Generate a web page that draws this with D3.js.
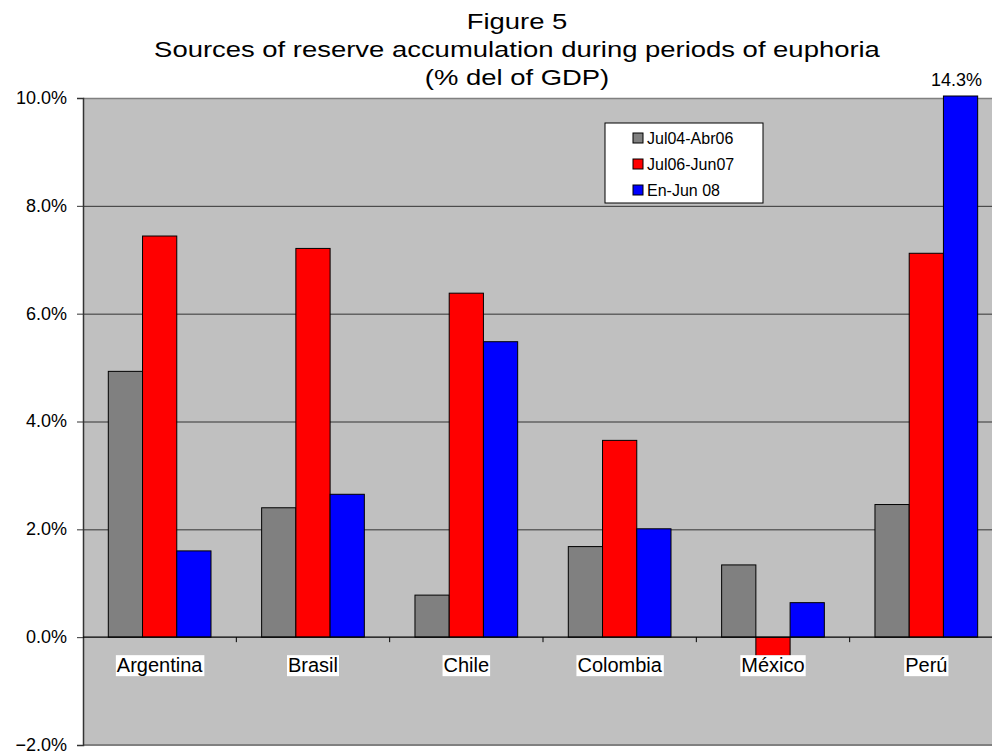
<!DOCTYPE html>
<html>
<head>
<meta charset="utf-8">
<script src="https://cdn.jsdelivr.net/npm/d3@7"></script>
<style>
  body { margin: 0; background: #fff; }
  text { font-family: "Liberation Sans", Arial, sans-serif; fill: #000; }
</style>
</head>
<body>
<script>
// Data (% of GDP)
const countries = ["Argentina", "Brasil", "Chile", "Colombia", "México", "Perú"];
const seriesNames = ["Jul04-Abr06", "Jul06-Jun07", "En-Jun 08"];
const seriesColors = ["#808080", "#FF0000", "#0000FF"];
const jul04Abr06 = [4.93, 2.40, 0.78, 1.68, 1.34, 2.46];
const jul06Jun07 = [7.44, 7.21, 6.38, 3.65, -0.35, 7.12];
const enJun08 = [1.60, 2.65, 5.48, 2.01, 0.64, 14.3];
const yTicks = [-2, 0, 2, 4, 6, 8, 10];
const titleLines = ["Figure 5", "Sources of reserve accumulation during periods of euphoria", "(% del of GDP)"];

const width = 992, height = 753;
const plot = { left: 83, right: 1003, top: 98, bottom: 745 };

const svg = d3.select("body").append("svg")
    .attr("width", width)
    .attr("height", height);

const x0 = d3.scaleBand().domain(countries).range([plot.left, plot.right]);
const x1 = d3.scaleBand().domain(seriesNames).range([25.3, 128]);
const y = d3.scaleLinear().domain([-2, 10]).range([plot.bottom, plot.top]).clamp(true);

// plot area
svg.append("rect")
    .attr("x", plot.left).attr("y", plot.top)
    .attr("width", plot.right - plot.left).attr("height", plot.bottom - plot.top)
    .attr("fill", "#C0C0C0");

// gridlines
svg.append("g")
    .selectAll("line")
    .data(yTicks.filter(d => d > 0 && d < 10))
    .join("line")
    .attr("x1", plot.left).attr("x2", plot.right)
    .attr("y1", d => y(d) + 0.5).attr("y2", d => y(d) + 0.5)
    .attr("stroke", "#333").attr("stroke-width", 1);

// top / bottom border
svg.append("line").attr("x1", plot.left).attr("x2", plot.right)
    .attr("y1", plot.top + 0.5).attr("y2", plot.top + 0.5)
    .attr("stroke", "#808080").attr("stroke-width", 1.5);
svg.append("line").attr("x1", plot.left).attr("x2", plot.right)
    .attr("y1", plot.bottom).attr("y2", plot.bottom)
    .attr("stroke", "#808080").attr("stroke-width", 2);

// bars
const series = [jul04Abr06, jul06Jun07, enJun08];
const barData = [];
countries.forEach((c, i) => {
  seriesNames.forEach((s, j) => {
    barData.push({ country: c, series: s, value: series[j][i], color: seriesColors[j] });
  });
});

svg.append("g")
    .selectAll("rect")
    .data(barData)
    .join("rect")
    .attr("x", d => x0(d.country) + x1(d.series))
    .attr("width", x1.bandwidth())
    .attr("y", d => Math.min(y(d.value), y(0)) - (d.value > 10 ? 2 : 0))
    .attr("height", d => Math.abs(y(d.value) - y(0)) + (d.value > 10 ? 2 : 0))
    .attr("fill", d => d.color)
    .attr("stroke", "#000").attr("stroke-width", 1);

// y axis
const yAxis = d3.axisLeft(y)
    .tickValues(yTicks)
    .tickFormat(d => d3.format(".1f")(d) + "%")
    .tickSize(6)
    .tickPadding(10);
const gy = svg.append("g")
    .attr("transform", `translate(${plot.left},0)`)
    .call(yAxis);
gy.select(".domain").attr("stroke", "#333").attr("stroke-width", 1.5);
gy.selectAll(".tick line").attr("stroke", "#333");
gy.selectAll(".tick text")
    .attr("font-size", 18)
    .attr("dy", "0.3em")
    .attr("font-family", "Liberation Sans, Arial, sans-serif");

// category axis at zero
svg.append("line")
    .attr("x1", plot.left).attr("x2", plot.right)
    .attr("y1", y(0)).attr("y2", y(0))
    .attr("stroke", "#000").attr("stroke-width", 1.2);
svg.append("g")
    .selectAll("line")
    .data(countries.slice(1))
    .join("line")
    .attr("x1", d => x0(d)).attr("x2", d => x0(d))
    .attr("y1", y(0)).attr("y2", y(0) + 5)
    .attr("stroke", "#000");

// category labels with white background
const labels = svg.append("g")
    .selectAll("g")
    .data(countries)
    .join("g")
    .attr("transform", d => `translate(${x0(d) + x0.bandwidth() / 2},${y(0) + 35})`);
labels.append("text")
    .attr("text-anchor", "middle")
    .attr("font-size", 20)
    .text(d => d);
labels.each(function () {
  const g = d3.select(this);
  const bb = g.select("text").node().getBBox();
  g.insert("rect", "text")
    .attr("x", bb.x - 1).attr("y", bb.y + 1)
    .attr("width", bb.width + 2).attr("height", bb.height - 1)
    .attr("fill", "#fff");
});

// value label for clipped bar
svg.append("g")
    .selectAll("text")
    .data(barData.filter(d => d.value > 10))
    .join("text")
    .attr("x", d => x0(d.country) + x1(d.series) + x1.bandwidth() / 2 - 4)
    .attr("y", plot.top - 12)
    .attr("text-anchor", "middle")
    .attr("font-size", 18)
    .text(d => d.value.toFixed(1) + "%");

// title (slightly stretched horizontally like the original)
svg.append("g")
    .attr("transform", "translate(517,0) scale(1.22,1)")
    .selectAll("text")
    .data(titleLines)
    .join("text")
    .attr("x", 0)
    .attr("y", (d, i) => 29 + i * 28)
    .attr("text-anchor", "middle")
    .attr("font-size", 22.5)
    .text(d => d);

// legend
const legend = svg.append("g").attr("transform", "translate(605,123)");
legend.append("rect")
    .attr("width", 158).attr("height", 80)
    .attr("fill", "#fff").attr("stroke", "#000").attr("stroke-width", 1);
const items = legend.selectAll("g.item")
    .data(seriesNames)
    .join("g")
    .attr("class", "item")
    .attr("transform", (d, i) => `translate(28,${15 + i * 26})`);
items.append("rect")
    .attr("x", 0).attr("y", -5)
    .attr("width", 10).attr("height", 10)
    .attr("fill", (d, i) => seriesColors[i])
    .attr("stroke", "#000");
items.append("text")
    .attr("x", 14).attr("y", 6)
    .attr("font-size", 16)
    .text(d => d);
</script>
</body>
</html>
